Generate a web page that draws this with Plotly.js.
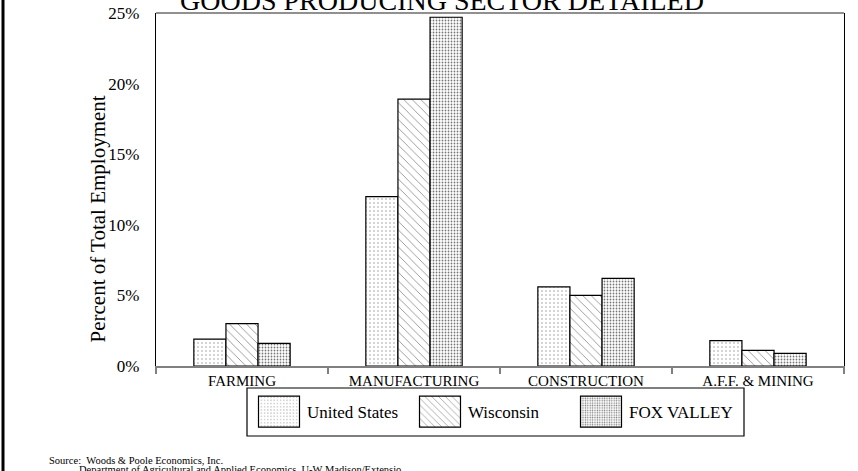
<!DOCTYPE html>
<html>
<head>
<meta charset="utf-8">
<script src="https://cdn.plot.ly/plotly-3.0.1.min.js"></script>
<style>html,body{margin:0;padding:0;background:#fff;}#chart{width:858px;height:471px;}</style>
</head>
<body>
<div id="chart"></div>
<script>
const categories = ["FARMING", "MANUFACTURING", "CONSTRUCTION", "A.F.F. & MINING"];
const seriesNames = ["United States", "Wisconsin", "FOX VALLEY"];
const unitedStates = [1.9, 12.0, 5.6, 1.8];
const wisconsin = [3.0, 18.9, 5.0, 1.1];
const foxValley = [1.6, 24.7, 6.2, 0.9];
const yTickVals = [0, 5, 10, 15, 20, 25];
const yTickText = ["0%", "5%", "10%", "15%", "20%", "25%"];

const FONT = "Liberation Serif, Times New Roman, serif";
const patterns = [
  {shape: ".", size: 4, solidity: 0.12, fgcolor: "#9a9a9a", bgcolor: "#ffffff"},
  {shape: "\\", size: 6, solidity: 0.12, fgcolor: "#777777", bgcolor: "#ffffff"},
  {shape: ".", size: 3, solidity: 0.28, fgcolor: "#777777", bgcolor: "#ffffff"}
];
const values = [unitedStates, wisconsin, foxValley];

const traces = values.map((v, i) => ({
  type: "bar",
  name: seriesNames[i],
  x: categories,
  y: v,
  marker: {color: "#ffffff", pattern: patterns[i], line: {color: "#000000", width: 1.2}},
  hoverinfo: "none"
}));

const L = 156, R = 844, T = 13, B = 366;
const pw = R - L, ph = B - T;
const px = x => (x - L) / pw;
const py = y => (B - y) / ph;

const layout = {
  width: 858, height: 471,
  margin: {l: L, r: 858 - R, t: T, b: 471 - B, pad: 0},
  paper_bgcolor: "#ffffff", plot_bgcolor: "#ffffff",
  font: {family: FONT, color: "#000000"},
  barmode: "group", bargap: 0.44, bargroupgap: 0,
  title: {text: "GOODS PRODUCING SECTOR DETAILED", font: {family: FONT, size: 28, color: "#000"},
          x: 442 / 858, xanchor: "center", xref: "container", y: 1 - 10 / 471, yanchor: "bottom", yref: "container"},
  xaxis: {type: "category", range: [-0.5, 3.5], showgrid: false, zeroline: false,
          showline: true, linecolor: "#808080", linewidth: 1.5,
          ticks: "outside", tickson: "boundaries", ticklen: 6, tickcolor: "#808080", tickwidth: 1.5,
          tickfont: {family: FONT, size: 15, color: "#000"}},
  yaxis: {range: [0, 25], tickvals: yTickVals, ticktext: yTickText, showgrid: false, zeroline: false,
          showline: true, linecolor: "#000000", linewidth: 1.2, mirror: true, ticks: "",
          ticklabelstandoff: 12,
          tickfont: {family: FONT, size: 17, color: "#000"}},
  showlegend: true,
  legend: {orientation: "h", x: px(251), xanchor: "left", y: py(412), yanchor: "middle",
           bgcolor: "rgba(0,0,0,0)", borderwidth: 0, itemwidth: 46, entrywidth: 100,
           font: {family: FONT, size: 17, color: "#000"}, itemclick: false, itemdoubleclick: false},
  shapes: [
    {type: "line", xref: "paper", yref: "paper", x0: 0, x1: 1, y0: 1, y1: 1, line: {color: "#222", width: 1.2}},
    {type: "rect", xref: "paper", yref: "paper", x0: px(247), x1: px(744), y0: py(388), y1: py(436),
     line: {color: "#000", width: 1.2}, fillcolor: "rgba(0,0,0,0)"},
    {type: "line", xref: "paper", yref: "paper", x0: px(3), x1: px(3), y0: py(0), y1: py(471),
     line: {color: "#000", width: 3}}
  ],
  annotations: [
    {text: "Percent of Total Employment", xref: "paper", yref: "paper", x: px(97.5), y: py(219),
     textangle: -90, showarrow: false, xanchor: "center", yanchor: "middle",
     font: {family: FONT, size: 21, color: "#000"}},
    {text: "Source:&nbsp;&nbsp;Woods &amp; Poole Economics, Inc.", xref: "paper", yref: "paper",
     x: px(47), y: py(453), xanchor: "left", yanchor: "top", showarrow: false,
     font: {family: FONT, size: 10.5, color: "#000"}},
    {text: "Department of Agricultural and Applied Economics, U-W Madison/Extensio", xref: "paper", yref: "paper",
     x: px(77), y: py(462), xanchor: "left", yanchor: "top", showarrow: false,
     font: {family: FONT, size: 10.5, color: "#000"}}
  ]
};

function bigSwatches() {
  document.querySelectorAll("#chart g.legendpoints path").forEach(p => {
    p.setAttribute("d", "M20.5,15.5H-20.5V-15.5H20.5Z");
  });
}
const gdEl = document.getElementById("chart");
Plotly.newPlot(gdEl, traces, layout, {staticPlot: true, displayModeBar: false}).then(gd => {
  bigSwatches();
  gd.on("plotly_afterplot", bigSwatches);
  setTimeout(bigSwatches, 0);
  setTimeout(bigSwatches, 50);
});
</script>
</body>
</html>
